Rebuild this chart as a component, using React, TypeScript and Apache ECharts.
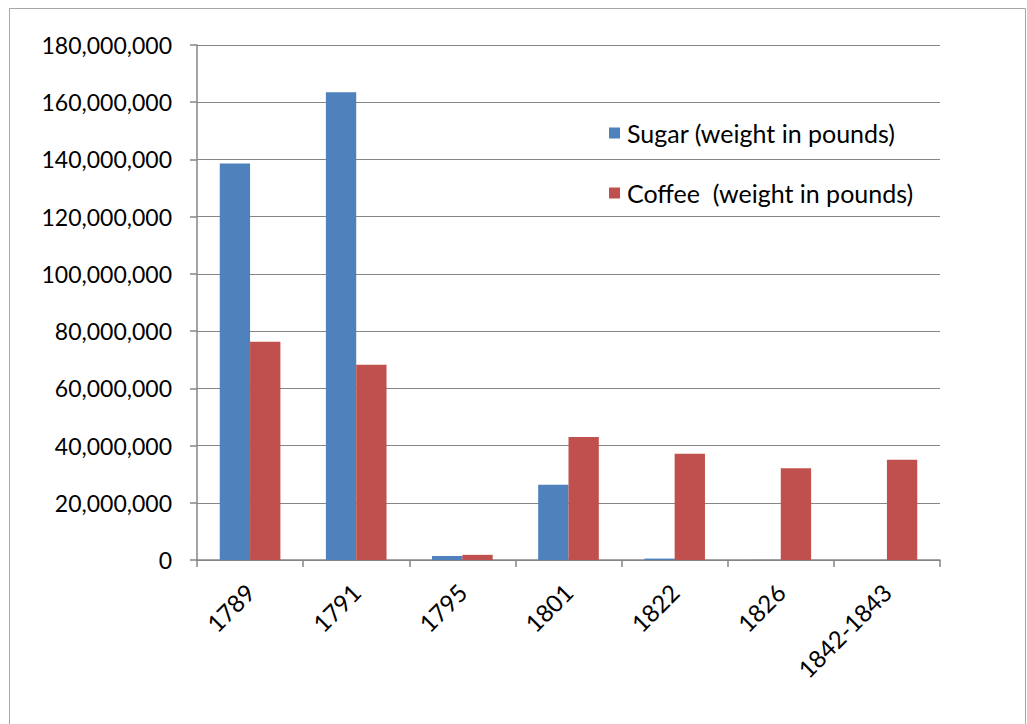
import React, { useEffect, useRef } from "react";
import * as echarts from "echarts";

const categories = ["1789", "1791", "1795", "1801", "1822", "1826", "1842-1843"];
const sugar = [138600000, 163500000, 1400000, 26300000, 500000, 30000, 0];
const coffee = [76300000, 68200000, 1800000, 43000000, 37100000, 32100000, 35000000];
const seriesNames = ["Sugar (weight in pounds)", "Coffee  (weight in pounds)"];

const FONT = "Lato";
const GRAY = "#868686";

export default function App() {
  const ref = useRef<HTMLDivElement>(null);
  useEffect(() => {
    const chart = echarts.init(ref.current!, undefined, { renderer: "svg" });
    chart.setOption({
      animation: false,
      backgroundColor: "#ffffff",
      textStyle: { fontFamily: FONT, color: "#000" },
      graphic: [
        {
          type: "rect",
          shape: { x: 9.5, y: 8.5, width: 1016, height: 740 },
          style: { fill: "none", stroke: "#a6a6a6", lineWidth: 1 },
          silent: true,
        },
      ],
      grid: { left: 197, right: 87, top: 45, bottom: 164, containLabel: false },
      legend: {
        orient: "vertical",
        left: 604,
        top: 115,
        itemGap: 34,
        itemWidth: 11,
        itemHeight: 11,
        icon: "rect",
        textStyle: { fontFamily: FONT, fontSize: 25, color: "#000", lineHeight: 26, padding: [0, 0, 0, 2] },
        data: seriesNames,
      },
      xAxis: {
        type: "category",
        data: categories,
        axisLine: { show: true, lineStyle: { color: GRAY, width: 1.5 } },
        axisTick: { show: true, length: 7, alignWithLabel: false, lineStyle: { color: GRAY, width: 1.5 } },
        axisLabel: { rotate: 45, fontSize: 24, fontFamily: FONT, color: "#000", margin: 28 },
      },
      yAxis: {
        type: "value",
        min: 0,
        max: 180000000,
        interval: 20000000,
        axisLine: { show: true, lineStyle: { color: GRAY, width: 1.5 } },
        axisTick: { show: true, length: 7, lineStyle: { color: GRAY, width: 1.5 } },
        splitLine: { show: true, lineStyle: { color: GRAY, width: 1.2 } },
        axisLabel: {
          fontSize: 23,
          fontFamily: FONT,
          color: "#000",
          margin: 25,
          formatter: (v: number) => v.toLocaleString("en-US"),
        },
      },
      series: [
        {
          name: seriesNames[0],
          type: "bar",
          data: sugar,
          itemStyle: { color: "#4F81BD" },
          barGap: "0%",
          barCategoryGap: "42.86%",
        },
        {
          name: seriesNames[1],
          type: "bar",
          data: coffee,
          itemStyle: { color: "#C0504D" },
          barGap: "0%",
          barCategoryGap: "42.86%",
        },
      ],
    });
    return () => chart.dispose();
  }, []);
  return (
    <div
      ref={ref}
      style={{ position: "fixed", left: 0, top: 0, width: 1027, height: 724 }}
    />
  );
}
